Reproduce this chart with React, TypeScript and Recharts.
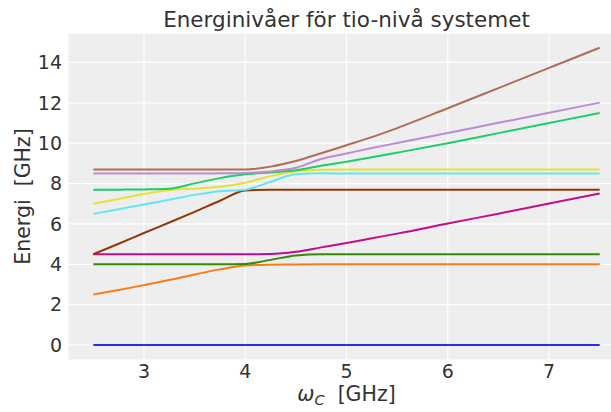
import { LineChart, Line, XAxis, YAxis, CartesianGrid, Label } from 'recharts';

const xs = [2.5, 2.75, 3, 3.25, 3.5, 3.75, 4, 4.25, 4.5, 4.75, 5, 5.25, 5.5, 6, 6.5, 7, 7.5];

// energy levels, lowest first
const level0 = [0, 0, 0, 0, 0, 0, 0, 0, 0, 0, 0, 0, 0, 0, 0, 0, 0];
const level1 = [2.5, 2.73, 2.97, 3.22, 3.5, 3.75, 3.94, 3.98, 3.99, 4.0, 4.0, 4.0, 4.0, 4.0, 4.0, 4.0, 4.0];
const level2 = [4.0, 4.0, 4.0, 4.0, 4.0, 4.0, 4.02, 4.22, 4.44, 4.5, 4.5, 4.5, 4.5, 4.5, 4.5, 4.5, 4.5];
const level3 = [4.5, 4.5, 4.5, 4.5, 4.5, 4.5, 4.5, 4.51, 4.62, 4.84, 5.06, 5.29, 5.52, 6.02, 6.51, 7.01, 7.51];
const level4 = [4.5, 5.02, 5.55, 6.07, 6.6, 7.15, 7.66, 7.7, 7.7, 7.7, 7.7, 7.7, 7.7, 7.7, 7.7, 7.7, 7.7];
const level5 = [6.5, 6.73, 6.96, 7.2, 7.44, 7.62, 7.7, 8.09, 8.46, 8.51, 8.5, 8.5, 8.5, 8.5, 8.5, 8.5, 8.5];
const level6 = [7.0, 7.24, 7.48, 7.68, 7.75, 7.84, 8.04, 8.37, 8.6, 8.69, 8.7, 8.7, 8.7, 8.7, 8.7, 8.7, 8.7];
const level7 = [7.7, 7.7, 7.71, 7.74, 8.01, 8.27, 8.46, 8.55, 8.66, 8.88, 9.08, 9.3, 9.53, 10.0, 10.5, 11.0, 11.5];
const level8 = [8.5, 8.5, 8.5, 8.5, 8.5, 8.51, 8.53, 8.6, 8.78, 9.22, 9.49, 9.76, 10.01, 10.51, 11.01, 11.51, 12.01];
const level9 = [8.7, 8.7, 8.7, 8.7, 8.7, 8.7, 8.7, 8.84, 9.12, 9.5, 9.9, 10.3, 10.75, 11.73, 12.73, 13.73, 14.73];

const xTicks = [3, 4, 5, 6, 7];
const yTicks = [0, 2, 4, 6, 8, 10, 12, 14];

const levels = [level0, level1, level2, level3, level4, level5, level6, level7, level8, level9];
const colors = ['#2a2eec', '#fa7c17', '#328c06', '#c10c90', '#933708', '#65e5f3', '#e6e135', '#1ccd6a', '#bd8ad5', '#b16b57'];

const data = xs.map((x, i) => {
  const row: Record<string, number> = { x };
  levels.forEach((lvl, k) => {
    row['e' + k] = lvl[i];
  });
  return row;
});

const font = 'DejaVu Sans';
const textColor = '#333333';

function XLabel(props: any) {
  const vb = props.viewBox;
  return (
    <text x={vb.x + vb.width / 2} y={401} textAnchor="middle" fontSize={20.5} fill={textColor} fontFamily={font}>
      <tspan fontStyle="italic">ω</tspan>
      <tspan fontStyle="italic" fontSize={14.5} dy={4}>C</tspan>
      <tspan dy={-4}>{'\u00a0\u00a0[GHz]'}</tspan>
    </text>
  );
}

function YLabel(props: any) {
  const vb = props.viewBox;
  const cy = vb.y + vb.height / 2;
  return (
    <text x={30} y={cy} transform={`rotate(-90, 30, ${cy})`} textAnchor="middle" fontSize={20.5} fill={textColor} fontFamily={font}>
      {'Energi\u00a0\u00a0[GHz]'}
    </text>
  );
}

export default function App() {
  return (
    <div style={{ position: 'fixed', left: 0, top: 0, width: 611, height: 412, overflow: 'hidden', background: '#fff' }}>
      <svg width={611} height={40} style={{ position: 'absolute', left: 0, top: 0 }}>
        <text x={346.5} y={27} textAnchor="middle" fontSize={21.5} fill={textColor} fontFamily={font}>
          Energinivåer för tio-nivå systemet
        </text>
      </svg>
      <LineChart width={625} height={412} data={data} margin={{ top: 33, right: 0, bottom: 0, left: 0 }} style={{ fontFamily: font }}>
        <CartesianGrid fill="#eeeeee" fillOpacity={1} stroke="#ffffff" strokeWidth={1.2} />
        <XAxis
          dataKey="x"
          type="number"
          domain={[2.25, 7.75]}
          ticks={xTicks}
          interval={0}
          height={52}
          axisLine={false}
          tickLine={false}
          tickSize={0}
          tickMargin={5}
          tick={{ fontSize: 19, fill: textColor, fontFamily: font }}
        >
          <Label content={XLabel} />
        </XAxis>
        <YAxis
          type="number"
          domain={[-0.74, 15.46]}
          ticks={yTicks}
          interval={0}
          width={68}
          axisLine={false}
          tickLine={false}
          tickSize={0}
          tickMargin={6}
          tick={{ fontSize: 19, fill: textColor, fontFamily: font }}
        >
          <Label content={YLabel} />
        </YAxis>
        {levels.map((_, k) => (
          <Line
            key={k}
            type="monotone"
            dataKey={'e' + k}
            stroke={colors[k]}
            strokeWidth={2}
            dot={false}
            activeDot={false}
            isAnimationActive={false}
          />
        ))}
      </LineChart>
    </div>
  );
}
